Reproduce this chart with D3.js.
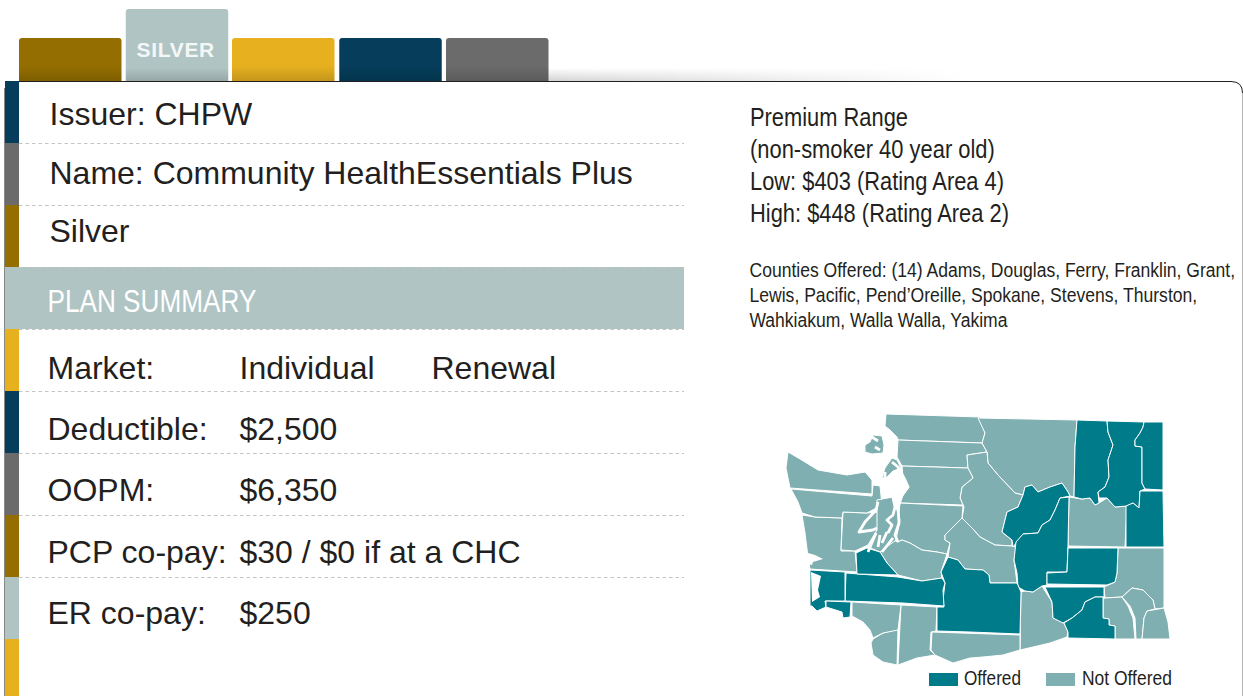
<!DOCTYPE html>
<html><head><meta charset="utf-8">
<script src="https://cdn.jsdelivr.net/npm/d3@7/dist/d3.min.js"></script>
<style>html,body{margin:0;padding:0;background:#fff;overflow:hidden}svg{display:block}text{font-family:"Liberation Sans",Arial,sans-serif;fill:#231f20}</style>
</head><body><svg id="c" width="1243" height="696"></svg>
<script>
// ---------- data ----------
const tabLabels = ["", "SILVER", "", "", ""];
const tabColors = ["#946e00", "#b0c4c3", "#e6b01f", "#053d5a", "#6b6b6b"];
const stripeColors = ["#053d5a","#6b6b6b","#946e00","#b0c4c3","#e6b01f","#053d5a","#6b6b6b","#946e00","#b0c4c3","#e6b01f"];
const headerRows = ["Issuer: CHPW", "Name: Community HealthEssentials Plus", "Silver"];
const summaryTitle = "PLAN SUMMARY";
const summaryLabels = ["Market:", "Deductible:", "OOPM:", "PCP co-pay:", "ER co-pay:"];
const summaryValues = ["Individual", "$2,500", "$6,350", "$30 / $0 if at a CHC", "$250"];
const marketExtra = "Renewal";
const premiumLines = ["Premium Range", "(non-smoker 40 year old)", "Low: $403 (Rating Area 4)", "High: $448 (Rating Area 2)"];
const premiumWidths = [158, 245, 254, 259];
const countyLines = ["Counties Offered: (14) Adams, Douglas, Ferry, Franklin, Grant,", "Lewis, Pacific, Pend\u2019Oreille, Spokane, Stevens, Thurston,", "Wahkiakum, Walla Walla, Yakima"];
const countyWidths = [486, 448, 258];
const legendLabels = ["Offered", "Not Offered"];
const legendWidths = [57, 90];
const offeredColor = "#007b8a", notOfferedColor = "#7fafb0";

// county outlines, in map units
const offered = {
 Ferry:[[1077,420],[1107,421],[1108,432],[1113,445],[1108,460],[1109,477],[1105,487],[1098,492],[1099,503],[1095,505],[1090,498],[1082,499],[1074,497],[1075,447]],
 Stevens:[[1107,421],[1144,422],[1143,427],[1140,433],[1135,440],[1135,446],[1142,447],[1142,483],[1145,489],[1140,491],[1139,508],[1133,503],[1127,506],[1115,507],[1107,498],[1099,498],[1098,492],[1105,487],[1109,477],[1108,460],[1113,445],[1108,432]],
 PendOreille:[[1144,422],[1163,422],[1163,490],[1145,489],[1142,483],[1142,447],[1135,446],[1135,440],[1140,433],[1143,427]],
 Spokane:[[1140,491],[1163,491],[1164,547],[1126,547],[1126,506],[1133,503],[1139,508]],
 Douglas:[[1023,495],[1025,487],[1032,485],[1038,492],[1050,487],[1062,483],[1068,492],[1070,496],[1060,498],[1055,510],[1050,520],[1042,525],[1038,533],[1023,534],[1017,542],[1013,547],[1012,540],[1002,532],[1007,512],[1018,507]],
 Grant:[[1069,497],[1068,546],[1067,572],[1047,572],[1047,585],[1042,586],[1033,592],[1025,591],[1018,587],[1017,573],[1014,560],[1016,542],[1023,534],[1038,533],[1042,525],[1050,520],[1055,510],[1060,498]],
 Adams:[[1068,548],[1118,548],[1117,573],[1115,582],[1107,585],[1047,584],[1047,573],[1067,572]],
 Franklin:[[1045,587],[1104,587],[1104,597],[1095,597],[1085,602],[1082,610],[1072,618],[1063,623],[1053,618],[1052,602]],
 WallaWalla:[[1064,623],[1072,618],[1082,610],[1085,602],[1095,597],[1103,597],[1103,618],[1109,619],[1109,625],[1115,626],[1115,639],[1068,638],[1068,632]],
 Yakima:[[948,557],[941,572],[945,583],[943,600],[944,607],[937,607],[937,631],[970,632],[1020,634],[1021,592],[1017,583],[990,583],[989,575],[983,570],[965,569],[958,560]],
 Lewis:[[846,573],[898,577],[922,581],[942,578],[945,583],[943,590],[944,606],[903,603],[845,601]],
 Thurston:[[856,553],[867,548],[880,552],[887,563],[898,575],[857,574]],
 Pacific:[[810,570],[845,572],[845,601],[825,601],[826,607],[817,611],[812,606],[810,606]],
 Wahkiakum:[[826,601],[851,602],[850,617],[843,618],[842,612],[826,607]]
};
const notOffered = {
 Whatcom:[[886,414],[980,417],[985,433],[982,443],[898,440],[897,437],[890,430],[885,426]],
 Skagit:[[898,440],[982,443],[987,452],[967,455],[968,468],[902,466],[897,457]],
 Okanogan:[[978,418],[1077,420],[1075,447],[1074,497],[1070,496],[1068,492],[1062,483],[1050,487],[1038,492],[1032,485],[1025,487],[1023,495],[1015,493],[998,475],[988,463],[987,452],[982,443],[985,433]],
 Chelan:[[967,455],[987,452],[988,463],[998,475],[1015,493],[1023,495],[1018,507],[1007,512],[1002,532],[1012,540],[1012,546],[995,545],[980,537],[972,528],[962,518],[964,507],[960,498],[962,487],[973,478],[968,468]],
 Snohomish:[[902,466],[968,468],[973,478],[962,487],[960,498],[963,505],[900,503],[902,497],[909,487],[903,477]],
 King:[[900,503],[963,506],[962,518],[945,535],[945,540],[950,543],[947,554],[937,552],[922,550],[910,543],[902,540],[898,542],[892,530],[898,520]],
 Pierce:[[880,552],[893,540],[898,542],[902,540],[910,543],[922,550],[937,552],[947,554],[941,572],[942,578],[922,581],[898,575],[887,563]],
 Kittitas:[[962,518],[972,528],[980,537],[995,545],[1012,546],[1016,547],[1014,560],[1017,583],[990,583],[989,575],[983,570],[965,569],[958,560],[948,557],[950,543],[945,540],[945,535]],
 Lincoln:[[1069,497],[1082,499],[1090,498],[1095,505],[1099,503],[1107,498],[1115,507],[1127,506],[1125,547],[1068,546]],
 Whitman:[[1118,548],[1164,548],[1164,608],[1155,609],[1153,600],[1143,590],[1132,588],[1122,597],[1105,598],[1104,587],[1115,582],[1117,573]],
 Garfield:[[1105,598],[1122,597],[1128,606],[1133,618],[1135,639],[1115,639],[1115,626],[1109,625],[1109,619],[1103,618],[1103,599]],
 Columbia:[[1122,597],[1132,588],[1143,590],[1153,600],[1155,609],[1147,611],[1144,618],[1142,639],[1136,639],[1135,618],[1130,606]],
 Asotin:[[1147,611],[1164,608],[1168,622],[1170,639],[1142,639],[1144,618]],
 Benton:[[1021,592],[1025,591],[1033,592],[1042,586],[1052,602],[1053,618],[1064,623],[1068,632],[1067,637],[1050,643],[1033,647],[1020,650]],
 Klickitat:[[932,632],[1020,635],[1020,650],[1003,655],[983,657],[970,658],[953,663],[935,655],[931,650]],
 Skamania:[[901,605],[937,607],[936,631],[931,632],[930,650],[935,655],[917,658],[898,665]],
 Clark:[[873,639],[883,633],[898,629],[897,665],[883,662],[873,655],[871,643]],
 Cowlitz:[[852,602],[901,605],[898,630],[883,633],[873,638],[870,630],[863,622],[852,616]],
 GraysHarbor:[[802,515],[815,517],[842,518],[841,551],[855,551],[857,572],[810,569],[808,557],[805,533]],
 Mason:[[843,512],[867,513],[878,512],[880,528],[877,530],[868,545],[855,551],[841,550]],
 Jefferson:[[791,489],[872,496],[873,485],[880,486],[882,505],[867,513],[843,512],[842,518],[815,517],[802,513],[798,502]],
 Clallam:[[788,452],[800,459],[818,470],[847,475],[865,472],[872,480],[872,494],[790,488],[786,468]],
 Kitsap:[[877,500],[893,497],[900,520],[896,540],[880,552],[868,547],[877,530]],
 SanJuan:[[865,445],[870,442],[873,435],[882,436],[884,445],[883,453],[872,454],[865,452]],
 Whidbey:[[892,458],[897,460],[901,468],[893,471],[886,478],[882,478],[885,468]]
};
// open water, drawn over the land
const water = [
 [[892,462],[898,467],[905,480],[908,487],[902,495],[898,507],[899,523],[895,535],[898,542]],
 [[885,472],[885,483],[892,493],[895,507],[893,515],[887,520],[892,525],[888,533]],
 [[878,502],[876,510],[865,522],[859,532],[873,530],[877,528]],
 [[876,533],[868,552]], [[880,535],[878,547]], [[887,532],[882,543]], [[893,538],[882,552]],
 [[872,437],[878,441]], [[875,447],[880,450]]
];
const bays = [
 [[808,553],[815,555],[823,559],[813,562],[812,565],[808,564]],
 [[811,572],[821,576],[818,590],[820,597],[812,602]]
];

// ---------- drawing ----------
const svg = d3.select("#c");
const defs = svg.append("defs");
const shade = (id,c,tOff)=>{const g=defs.append("linearGradient").attr("id",id).attr("x1",0).attr("x2",0).attr("y1",0).attr("y2",1);
  g.append("stop").attr("offset",tOff).attr("stop-color",c);
  g.append("stop").attr("offset",1).attr("stop-color",d3.color(c).darker(0.45));};
tabColors.forEach((c,i)=>shade("t"+i,c,i===1?0.82:0.65));
const sh = defs.append("linearGradient").attr("id","sh").attr("x1",0).attr("x2",0).attr("y1",0).attr("y2",1);
sh.append("stop").attr("offset",0).attr("stop-color","#fff");
sh.append("stop").attr("offset",1).attr("stop-color","#d4d4d4");
const shm = defs.append("linearGradient").attr("id","shm");
shm.append("stop").attr("offset",0).attr("stop-color","#fff").attr("stop-opacity",0);
shm.append("stop").attr("offset",0.75).attr("stop-color","#fff").attr("stop-opacity",1);
// shadow above the panel
svg.append("rect").attr("x",548).attr("y",68).attr("width",560).attr("height",13).attr("fill","url(#sh)");
svg.append("rect").attr("x",548).attr("y",66).attr("width",560).attr("height",15).attr("fill","url(#shm)");

// tabs
const tabX = d3.scalePoint().domain(d3.range(5)).range([19,446]);
svg.selectAll("path.tab").data(tabColors).join("path").attr("class","tab")
 .attr("d",(c,i)=>{const x=tabX(i)+(i===2?-.5:0),w=102.5,top=i===1?9:38,r=3;return `M${x},81V${top+r}Q${x},${top} ${x+r},${top}H${x+w-r}Q${x+w},${top} ${x+w},${top+r}V81Z`;})
 .attr("fill",(c,i)=>`url(#t${i})`);
svg.selectAll("text.tabl").data(tabLabels).join("text").attr("class","tabl")
 .attr("x",(d,i)=>tabX(i)+50).attr("y",57).attr("text-anchor","middle")
 .attr("font-size",21).attr("font-weight","bold").attr("letter-spacing",0.7).style("fill","#f4f7f7").text(d=>d);

// panel
svg.append("path").attr("d","M5,696V81.5H1231Q1242.5,81.5 1242.5,93V696").attr("fill","#fff").attr("stroke","none");
svg.append("path").attr("d","M5,81.5H1231Q1242.5,81.5 1242.5,93").attr("fill","none").attr("stroke","#231f20").attr("stroke-width",1);
svg.append("path").attr("d","M1242.5,93V696").attr("fill","none").attr("stroke","#b5b5b5");
svg.append("rect").attr("x",4).attr("y",88).attr("width",1).attr("height",608).attr("fill","#888");

// rows
const rowY = d3.scaleLinear().domain([0,1]).range([81,143]);
svg.selectAll("rect.stripe").data(stripeColors).join("rect").attr("class","stripe")
 .attr("x",5).attr("width",14).attr("y",(d,i)=>rowY(i)).attr("height",62).attr("fill",d=>d);
svg.append("rect").attr("x",5).attr("y",rowY(3)).attr("width",679).attr("height",62).attr("fill","#b0c4c3");
svg.selectAll("line.dash").data(d3.range(1,9)).join("line").attr("class","dash")
 .attr("x1",19).attr("x2",684).attr("y1",d=>rowY(d)+.5).attr("y2",d=>rowY(d)+.5)
 .attr("stroke","#c4c4c4").attr("stroke-dasharray","3.5 3");
const fs = 32;
const headBase = [125, 184, 242];
svg.selectAll("text.head").data(headerRows).join("text").attr("class","head")
 .attr("x",49.5).attr("y",(d,i)=>headBase[i]).attr("font-size",fs).text(d=>d);
const rowBase = [379, 440, 501, 563, 624];
svg.selectAll("text.lab").data(summaryLabels).join("text").attr("class","lab")
 .attr("x",47.5).attr("y",(d,i)=>rowBase[i]).attr("font-size",fs).text(d=>d);
svg.selectAll("text.val").data(summaryValues).join("text").attr("class","val")
 .attr("x",239.5).attr("y",(d,i)=>rowBase[i]).attr("font-size",fs).text(d=>d);
svg.append("text").attr("x",431.5).attr("y",rowBase[0]).attr("font-size",fs).text(marketExtra);

// condensed text: squeeze horizontally to the measured width
function squeeze(sel, x, yFn, wFn){
  sel.each(function(d,i){
    const t=d3.select(this), natural=this.getComputedTextLength();
    t.attr("x",0).attr("y",0).attr("transform",`translate(${x(d,i)},${yFn(d,i)}) scale(${wFn(d,i)/natural},1)`);
  });
}
const title = svg.append("text").datum(summaryTitle).attr("font-size",32).style("fill","#fff").text(d=>d);
squeeze(title,()=>47.5,()=>rowY(3)+45,()=>209);

// right column
const prem = svg.selectAll("text.prem").data(premiumLines).join("text").attr("class","prem").attr("font-size",25.5).text(d=>d);
squeeze(prem,()=>750,(d,i)=>126+i*32,(d,i)=>premiumWidths[i]);
const cnty = svg.selectAll("text.cnty").data(countyLines).join("text").attr("class","cnty").attr("font-size",20).text(d=>d);
squeeze(cnty,()=>749.5,(d,i)=>277+i*25,(d,i)=>countyWidths[i]);

// map
const path = d3.geoPath(d3.geoIdentity());
const poly = r => ({type:"Polygon",coordinates:[[...r,r[0]].slice().reverse()]});
const map = svg.append("g");
const land = [...Object.values(notOffered).map(r=>[r,notOfferedColor]),...Object.values(offered).map(r=>[r,offeredColor])];
map.selectAll("path.county").data(land).join("path").attr("class","county")
 .attr("d",d=>path(poly(d[0]))).attr("fill",d=>d[1]).attr("stroke","#fff").attr("stroke-width",1).attr("stroke-linejoin","round");
map.selectAll("path.bay").data(bays).join("path").attr("class","bay")
 .attr("d",d=>path(poly(d))).attr("fill","#fff");
map.selectAll("path.water").data(water).join("path").attr("class","water")
 .attr("d",d=>path({type:"LineString",coordinates:d})).attr("fill","none").attr("stroke","#fff").attr("stroke-width",2.8).attr("stroke-linejoin","round");

// legend
const legX = d3.scaleOrdinal().domain(legendLabels).range([929,1046]);
const legG = svg.selectAll("g.leg").data(legendLabels).join("g").attr("class","leg");
legG.append("rect").attr("x",d=>legX(d)).attr("y",673).attr("width",29).attr("height",13)
 .attr("fill",(d,i)=>i?notOfferedColor:offeredColor);
const legT = legG.append("text").attr("font-size",21).text(d=>d);
squeeze(legT,(d,i)=>legX(d)+(i?36:35),()=>685,(d,i)=>legendWidths[i]);
</script></body></html>
